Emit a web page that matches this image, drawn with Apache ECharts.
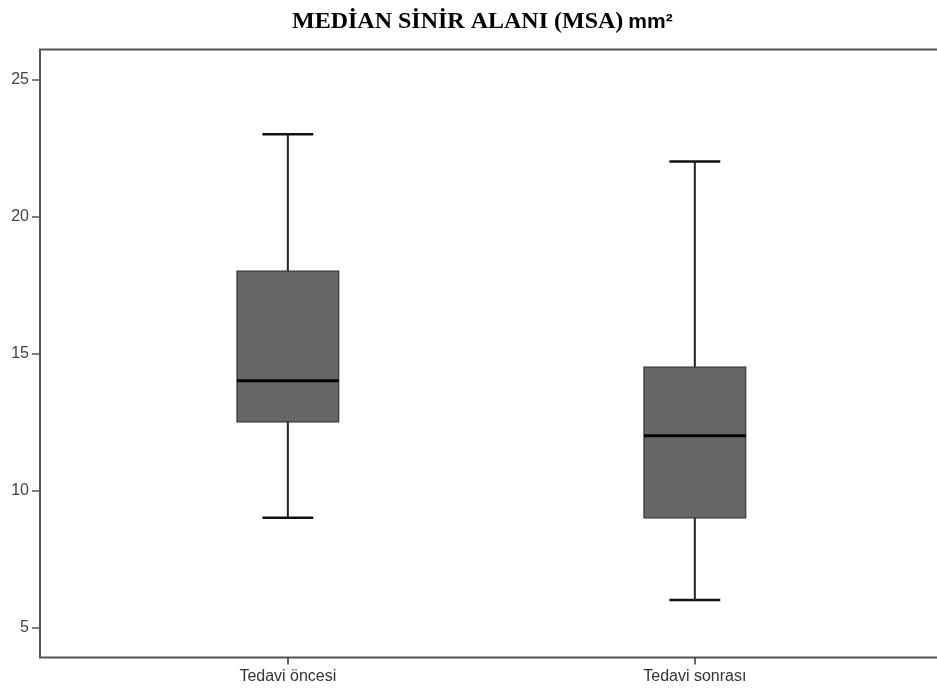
<!DOCTYPE html>
<html>
<head>
<meta charset="utf-8">
<script src="https://cdn.jsdelivr.net/npm/echarts@6/dist/echarts.min.js"></script>
<style>html,body{margin:0;padding:0;background:#fff}#c{width:937px;height:690px}</style>
</head>
<body>
<div id="c"></div>
<script>
const categories = ['Tedavi öncesi', 'Tedavi sonrası'];
const whiskerLow = [9, 6];
const q1 = [12.5, 9];
const median = [14, 12];
const q3 = [18, 14.5];
const whiskerHigh = [23, 22];
const yTicks = [5, 10, 15, 20, 25];

const boxData = categories.map((c, i) => [i, whiskerLow[i], q1[i], median[i], q3[i], whiskerHigh[i]]);

const chart = echarts.init(document.getElementById('c'), null, {renderer: 'canvas'});
chart.setOption({
  animation: false,
  backgroundColor: '#fff',
  title: {
    left: 287, top: 5,
    text: '{a|MEDİAN SİNİR ALANI (MSA)} {b|mm²}',
    textStyle: {
      rich: {
        a: {fontFamily: 'Liberation Serif', fontWeight: 'bold', fontSize: 24, color: '#000'},
        b: {fontFamily: 'Liberation Sans', fontWeight: 'bold', fontSize: 21, color: '#000'}
      }
    }
  },
  grid: {
    left: 40, width: 910, top: 49.5, bottom: 32.5,
    outerBoundsMode: 'none', containLabel: false,
    show: true, borderColor: '#555', borderWidth: 2, backgroundColor: '#fff'
  },
  xAxis: {
    type: 'value', min: -0.609, max: 1.627,
    splitLine: {show: false},
    axisLine: {show: false, onZero: false},
    axisTick: {show: true, customValues: [0, 1], length: 7, lineStyle: {color: '#333', width: 1.5}},
    axisLabel: {
      customValues: [0, 1], margin: 11,
      formatter: v => categories[Math.round(v)] || '',
      fontFamily: 'Liberation Sans', fontSize: 16, color: '#333'
    }
  },
  yAxis: {
    type: 'value', min: 3.905, max: 26.09,
    splitLine: {show: false},
    axisLine: {show: false, onZero: false},
    axisTick: {show: true, customValues: yTicks, length: 8, lineStyle: {color: '#555', width: 1.5}},
    axisLabel: {customValues: yTicks, margin: 11, fontFamily: 'Liberation Sans', fontSize: 16, color: '#444'}
  },
  series: [{
    type: 'custom',
    data: boxData,
    encode: {x: 0, y: [1, 2, 3, 4, 5]},
    renderItem: function (params, api) {
      const x = api.value(0);
      const band = api.size([1, 0])[0];
      const halfBox = band * 0.125;
      const halfCap = band * 0.0625;
      const pLow = api.coord([x, api.value(1)]);
      const pQ1 = api.coord([x, api.value(2)]);
      const pMed = api.coord([x, api.value(3)]);
      const pQ3 = api.coord([x, api.value(4)]);
      const pHigh = api.coord([x, api.value(5)]);
      const cx = pMed[0];
      const wl = {stroke: '#222', lineWidth: 2};
      return {
        type: 'group',
        children: [
          {type: 'line', shape: {x1: cx, y1: pHigh[1], x2: cx, y2: pQ3[1]}, style: wl},
          {type: 'line', shape: {x1: cx, y1: pQ1[1], x2: cx, y2: pLow[1]}, style: wl},
          {type: 'line', shape: {x1: cx - halfCap, y1: pHigh[1], x2: cx + halfCap, y2: pHigh[1]}, style: {stroke: '#111', lineWidth: 2.5}},
          {type: 'line', shape: {x1: cx - halfCap, y1: pLow[1], x2: cx + halfCap, y2: pLow[1]}, style: {stroke: '#111', lineWidth: 2.5}},
          {type: 'rect', shape: {x: cx - halfBox, y: pQ3[1], width: halfBox * 2, height: pQ1[1] - pQ3[1]},
            style: {fill: '#666666', stroke: '#333', lineWidth: 1.2}},
          {type: 'line', shape: {x1: cx - halfBox, y1: pMed[1], x2: cx + halfBox, y2: pMed[1]}, style: {stroke: '#000', lineWidth: 3}}
        ]
      };
    }
  }]
});
</script>
</body>
</html>
